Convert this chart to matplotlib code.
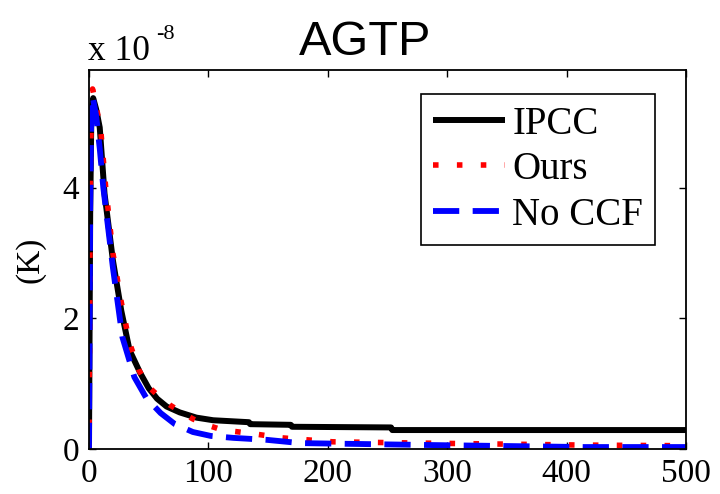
import numpy as np
import matplotlib
matplotlib.use("Agg")
import matplotlib.pyplot as plt

# values in units of 1e-8 K
ipcc_t = [0, 1, 2, 3.5, 6, 9, 13, 20, 27, 34, 43, 50, 57, 65, 76, 90, 104, 134, 135, 169, 170, 253, 254, 500]
ipcc_v = [0, 3.6, 5.15, 5.37, 5.2, 4.92, 3.91, 2.89, 2.12, 1.51, 1.16, 0.93, 0.77, 0.65, 0.56, 0.48, 0.44, 0.41, 0.38, 0.37, 0.34, 0.33, 0.29, 0.29]

ours_t = [0, 1, 2, 3, 6, 10, 14, 20, 27, 34, 42, 50, 60, 68, 76, 87, 100, 112, 135, 162, 204, 280, 414, 500]
ours_v = [0, 3.8, 5.4, 5.51, 5.25, 4.85, 4.0, 3.0, 2.25, 1.62, 1.2, 0.95, 0.78, 0.67, 0.58, 0.46, 0.36, 0.29, 0.24, 0.17, 0.11, 0.09, 0.06, 0.05]

noccf_t = [0, 1, 2, 3, 6, 9, 12, 20, 28, 38, 48, 60, 72, 87, 102, 121, 149, 177, 288, 414, 500]
noccf_v = [0, 3.7, 5.25, 5.4, 5.1, 4.6, 4.0, 2.78, 1.71, 1.10, 0.78, 0.55, 0.38, 0.26, 0.2, 0.17, 0.14, 0.09, 0.06, 0.03, 0.03]

xticks = [0, 100, 200, 300, 400, 500]
yticks = [0, 2, 4]

serif = ["Liberation Serif", "DejaVu Serif"]
plt.rcParams["font.family"] = serif

fig = plt.figure(figsize=(7.2, 4.94), dpi=100)
ax = fig.add_axes([0.1236, 0.0911, 0.8292, 0.7672])

ax.plot(ipcc_t, ipcc_v, color="black", lw=4.3, label="IPCC", solid_capstyle="butt")
ax.plot(ours_t, ours_v, color="red", lw=4, ls=(0, (1, 3.3)), label="Ours")
ax.plot(noccf_t, noccf_v, color="blue", lw=4.2, ls=(0, (4.5, 2.3)), label="No CCF")

ax.set_xlim(0, 500)
ax.set_ylim(0, 5.8)
ax.set_xticks(xticks)
ax.set_yticks(yticks)
ax.tick_params(direction="in", length=5, width=1, top=True, right=True,
               labelsize=24, pad=7)
for s in ax.spines.values():
    s.set_linewidth(1.3)

ax.set_ylabel("(K)", fontsize=24, labelpad=12)
fig.text(365 / 720, 1 - 55 / 494, "AGTP", fontsize=35, ha="center", va="baseline",
         family=["Liberation Sans", "DejaVu Sans"])
fig.text(88 / 720, 1 - 60 / 494, "x 10", fontsize=25.5, ha="left", va="baseline")
fig.text(156 / 720, 1 - 39 / 494, "-8", fontsize=16, ha="left", va="baseline")

leg = ax.legend(loc="upper right", bbox_to_anchor=(0.948, 0.937), borderaxespad=0,
                fontsize=28, handlelength=1.85, handletextpad=0.2,
                labelspacing=0.22, borderpad=0.3, fancybox=False,
                framealpha=1, edgecolor="black")
leg.get_frame().set_linewidth(1.2)

fig.savefig("out.png", dpi=100)
